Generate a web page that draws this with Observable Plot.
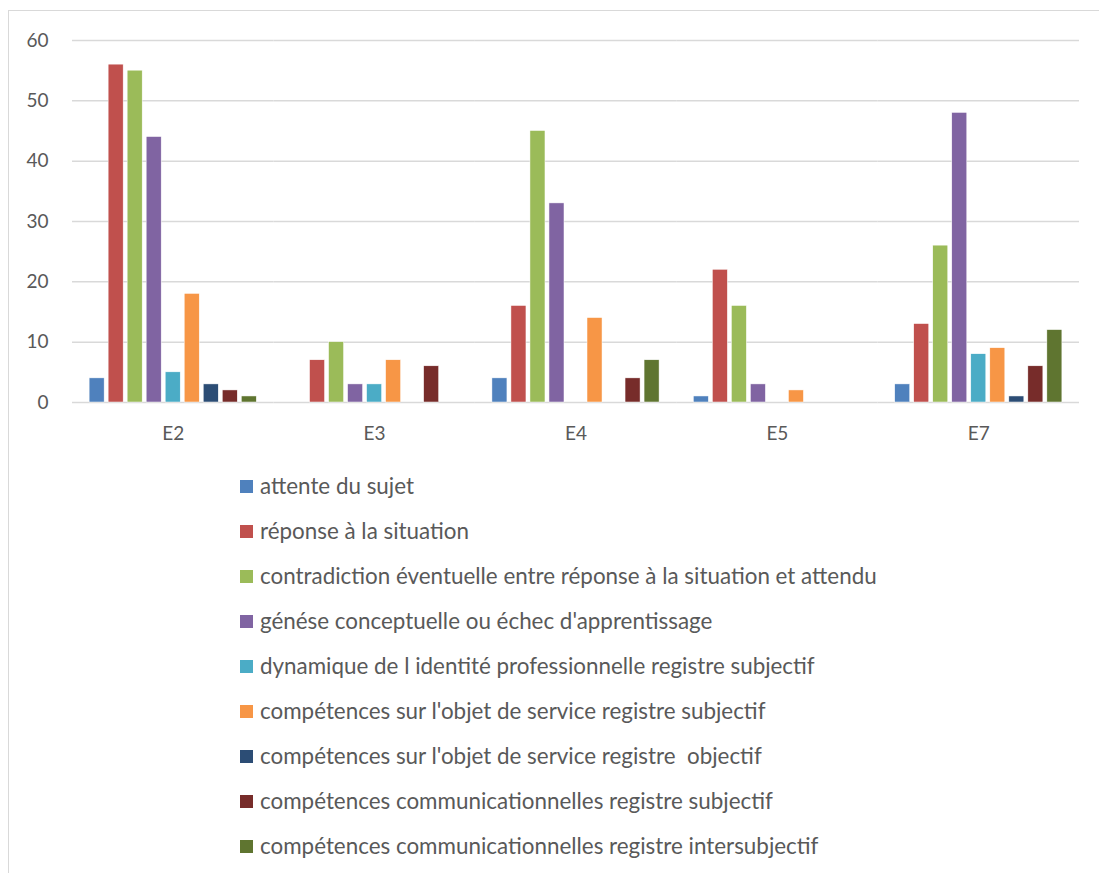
<!DOCTYPE html>
<html>
<head>
<meta charset="utf-8">
<script src="https://cdn.jsdelivr.net/npm/d3@7"></script>
<script src="https://cdn.jsdelivr.net/npm/@observablehq/plot@0.6"></script>
<style>
  html, body { margin: 0; padding: 0; background: #fff; }
  body { width: 1099px; height: 873px; position: relative; overflow: hidden; font-family: Lato, "Open Sans", sans-serif; }
  #frame { position: absolute; left: 8px; top: 10px; width: 1120px; height: 900px; border: 1px solid #d9d9d9; box-sizing: border-box; }
  #chart { position: absolute; left: 0; top: 0; }
  #legend { position: absolute; left: 240px; top: 472px; }
  .item { height: 45px; display: flex; align-items: flex-start; font-size: 22.4px; color: #595959; white-space: pre; }
  .sw { width: 13px; height: 13px; margin-right: 7px; margin-top: 8px; flex: none; }
</style>
</head>
<body>
<div id="frame"></div>
<div id="chart"></div>
<div id="legend"></div>
<script>
const groups = ["E2", "E3", "E4", "E5", "E7"];
const series = [
  "attente du sujet",
  "réponse à la situation",
  "contradiction éventuelle entre réponse à la situation et attendu",
  "génése conceptuelle ou échec d'apprentissage",
  "dynamique de l identité professionnelle registre subjectif",
  "compétences sur l'objet de service registre subjectif",
  "compétences sur l'objet de service registre  objectif",
  "compétences communicationnelles registre subjectif",
  "compétences communicationnelles registre intersubjectif"
];
const colors = ["#4F81BD", "#C0504D", "#9BBB59", "#8064A2", "#4BACC6", "#F79646", "#2C4D75", "#772C2A", "#5F7530"];
// values per series, in group order E2, E3, E4, E5, E7
const attente = [4, 0, 4, 1, 3];
const reponse = [56, 7, 16, 22, 13];
const contradiction = [55, 10, 45, 16, 26];
const genese = [44, 3, 33, 3, 48];
const dynamique = [5, 3, 0, 0, 8];
const compObjSubj = [18, 7, 14, 2, 9];
const compObjObj = [3, 0, 0, 0, 1];
const compComSubj = [2, 6, 4, 0, 6];
const compComInter = [1, 0, 7, 0, 12];
const yTicks = [0, 10, 20, 30, 40, 50, 60];

const valueLists = [attente, reponse, contradiction, genese, dynamique, compObjSubj, compObjObj, compComSubj, compComInter];
const data = [];
groups.forEach((g, gi) => {
  series.forEach((s, si) => {
    data.push({group: g, series: s, value: valueLists[si][gi]});
  });
});

const chart = Plot.plot({
  width: 1099,
  height: 460,
  marginLeft: 72,
  marginRight: 20,
  marginTop: 40,
  marginBottom: 58,
  style: {fontFamily: "Lato, 'Open Sans', sans-serif", fontSize: "19px", color: "#595959", background: "transparent"},
  fx: {domain: groups, padding: 0, round: false, label: null},
  x: {domain: series, paddingInner: 0.21, paddingOuter: 0.9, round: false, axis: null},
  y: {domain: [0, 60], ticks: yTicks, label: null},
  color: {domain: series, range: colors},
  marks: [
    Plot.gridY(yTicks, {stroke: "#d9d9d9", strokeOpacity: 1, strokeWidth: 1.5}),
    Plot.barY(data, {fx: "group", x: "series", y: "value", fill: "series", stroke: "#fff", strokeWidth: 0.5, filter: d => d.value > 0}),
    Plot.axisY(yTicks, {tickSize: 0, tickPadding: 24, label: null, fill: "#595959", fontSize: 19}),
    Plot.axisFx({anchor: "bottom", tickSize: 0, tickPadding: 24, label: null, fill: "#595959", fontSize: 19})
  ]
});
document.getElementById("chart").appendChild(chart);

const legend = document.getElementById("legend");
series.forEach((s, i) => {
  const item = document.createElement("div");
  item.className = "item";
  const sw = document.createElement("span");
  sw.className = "sw";
  sw.style.background = colors[i];
  const t = document.createElement("span");
  t.textContent = s;
  item.appendChild(sw);
  item.appendChild(t);
  legend.appendChild(item);
});
</script>
</body>
</html>
